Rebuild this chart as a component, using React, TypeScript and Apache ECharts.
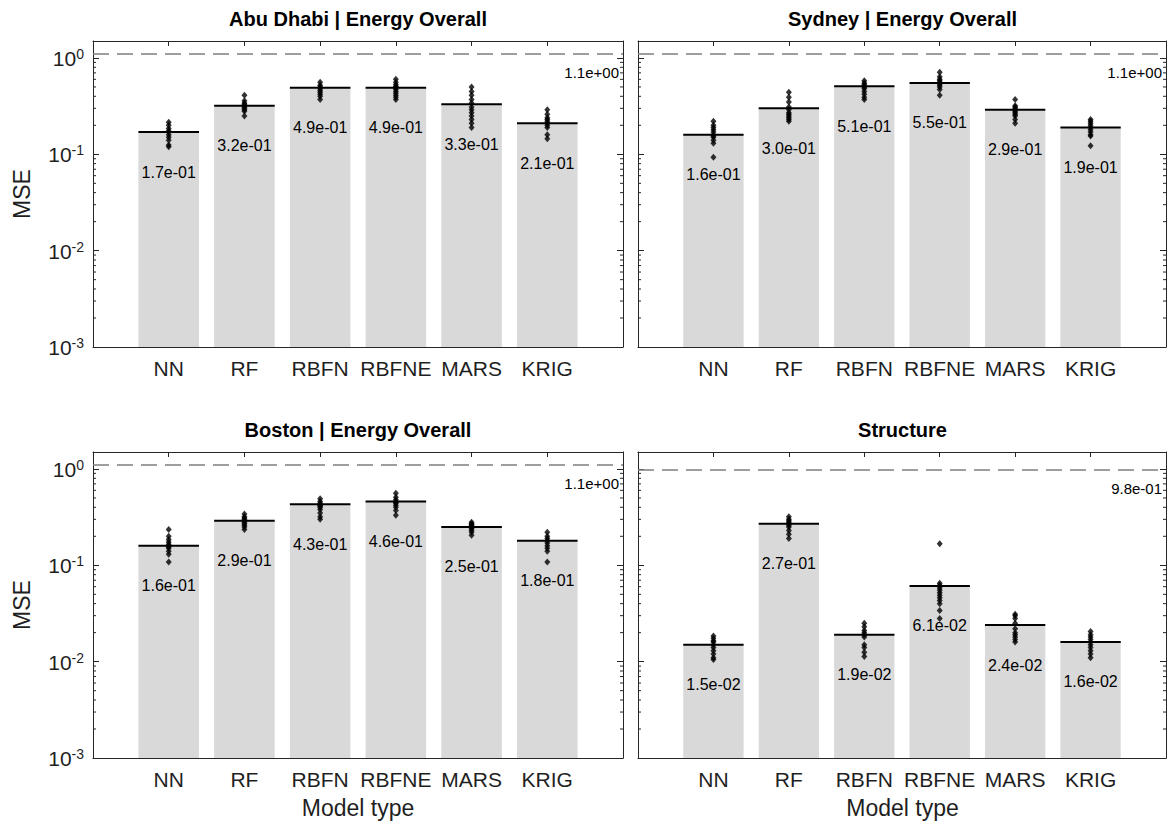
import React, { useEffect, useRef } from "react";
import * as echarts from "echarts";

const categories = ["NN", "RF", "RBFN", "RBFNE", "MARS", "KRIG"];
const panelTitles = ["Abu Dhabi | Energy Overall", "Sydney | Energy Overall", "Boston | Energy Overall", "Structure"];

const abuDhabiMeans = [0.17, 0.32, 0.49, 0.49, 0.33, 0.21];
const sydneyMeans = [0.16, 0.30, 0.51, 0.55, 0.29, 0.19];
const bostonMeans = [0.16, 0.29, 0.43, 0.46, 0.25, 0.18];
const structureMeans = [0.015, 0.27, 0.019, 0.061, 0.024, 0.016];

const baselineValues = [1.1, 1.1, 1.1, 0.98];

const abuDhabiPoints = [
  [0.215, 0.2, 0.185, 0.175, 0.17, 0.16, 0.15, 0.14, 0.125, 0.12],
  [0.41, 0.36, 0.34, 0.33, 0.32, 0.31, 0.3, 0.29, 0.28, 0.25],
  [0.56, 0.52, 0.5, 0.48, 0.46, 0.44, 0.42, 0.4, 0.37],
  [0.6, 0.56, 0.53, 0.51, 0.5, 0.49, 0.47, 0.45, 0.43, 0.41, 0.39, 0.37],
  [0.5, 0.45, 0.41, 0.37, 0.34, 0.31, 0.29, 0.27, 0.25, 0.23, 0.21, 0.19],
  [0.29, 0.26, 0.24, 0.23, 0.22, 0.21, 0.2, 0.19, 0.16, 0.145],
];
const sydneyPoints = [
  [0.22, 0.2, 0.19, 0.18, 0.17, 0.16, 0.155, 0.15, 0.14, 0.13, 0.093],
  [0.44, 0.39, 0.35, 0.31, 0.29, 0.27, 0.26, 0.25, 0.24, 0.23, 0.22],
  [0.58, 0.55, 0.53, 0.51, 0.5, 0.48, 0.45, 0.42, 0.39, 0.37],
  [0.71, 0.64, 0.6, 0.58, 0.56, 0.54, 0.52, 0.5, 0.47, 0.41],
  [0.37, 0.32, 0.31, 0.3, 0.29, 0.28, 0.27, 0.26, 0.25, 0.23, 0.21],
  [0.23, 0.22, 0.21, 0.2, 0.19, 0.18, 0.17, 0.16, 0.155, 0.123],
];
const bostonPoints = [
  [0.235, 0.2, 0.185, 0.175, 0.165, 0.16, 0.155, 0.15, 0.14, 0.13, 0.108],
  [0.34, 0.32, 0.31, 0.3, 0.29, 0.28, 0.27, 0.26, 0.25, 0.235],
  [0.49, 0.46, 0.44, 0.42, 0.41, 0.4, 0.38, 0.35, 0.32, 0.3],
  [0.56, 0.51, 0.48, 0.46, 0.45, 0.44, 0.42, 0.4, 0.37, 0.33],
  [0.28, 0.27, 0.265, 0.26, 0.255, 0.25, 0.245, 0.24, 0.23, 0.22, 0.205],
  [0.22, 0.2, 0.19, 0.18, 0.17, 0.16, 0.15, 0.14, 0.108],
];
const structurePoints = [
  [0.0185, 0.0175, 0.0165, 0.016, 0.015, 0.014, 0.013, 0.012, 0.011, 0.0105],
  [0.32, 0.3, 0.29, 0.28, 0.27, 0.26, 0.25, 0.23, 0.21, 0.19],
  [0.025, 0.023, 0.021, 0.02, 0.019, 0.018, 0.015, 0.014, 0.0125, 0.0113],
  [0.167, 0.065, 0.062, 0.058, 0.055, 0.052, 0.049, 0.046, 0.043, 0.04, 0.034, 0.028],
  [0.031, 0.03, 0.028, 0.025, 0.022, 0.02, 0.019, 0.018, 0.017, 0.016],
  [0.0205, 0.019, 0.018, 0.017, 0.016, 0.015, 0.014, 0.013, 0.012, 0.011],
];

const minorTickValues = [
  0.002, 0.003, 0.004, 0.005, 0.006, 0.007, 0.008, 0.009,
  0.02, 0.03, 0.04, 0.05, 0.06, 0.07, 0.08, 0.09,
  0.2, 0.3, 0.4, 0.5, 0.6, 0.7, 0.8, 0.9,
];

const yMin = 0.001;
const yMax = 1.5;
const xLabelName = "Model type";
const yLabelName = "MSE";

const allMeans = [abuDhabiMeans, sydneyMeans, bostonMeans, structureMeans];
const allPoints = [abuDhabiPoints, sydneyPoints, bostonPoints, structurePoints];

const FONT = "'Liberation Sans', Arial, Helvetica, sans-serif";
const AXIS_COLOR = "#262626";

const panels = [
  { left: 93, top: 41, width: 530, height: 306 },
  { left: 638, top: 41, width: 529, height: 306 },
  { left: 93, top: 452, width: 530, height: 306 },
  { left: 638, top: 452, width: 529, height: 306 },
];

function fmtExp(v: number): string {
  const s = v.toExponential(1);
  const m = s.match(/^(.*)e([+-])(\d+)$/);
  if (!m) return s;
  return `${m[1]}e${m[2]}${m[3].padStart(2, "0")}`;
}

function isPow10(v: number) {
  const l = Math.log10(v);
  return Math.abs(l - Math.round(l)) < 1e-6;
}

export default function App() {
  const ref = useRef<HTMLDivElement>(null);

  useEffect(() => {
    if (!ref.current) return;
    const chart = echarts.init(ref.current, undefined, { renderer: "svg" });

    const xAxis: any[] = [];
    const yAxis: any[] = [];
    const series: any[] = [];
    const graphic: any[] = [];

    panels.forEach((p, i) => {
      const isBottomRow = i >= 2;
      const isLeftCol = i % 2 === 0;
      xAxis.push({
        gridIndex: i,
        type: "value",
        min: 0,
        max: 7,
        interval: 1,
        position: "bottom",
        axisLine: { show: true, onZero: false, lineStyle: { color: AXIS_COLOR, width: 1 } },
        axisTick: { show: false },
        splitLine: { show: false },
        axisLabel: {
          show: true,
          margin: 11,
          fontSize: 21,
          fontFamily: FONT,
          color: "#1f1f1f",
          formatter: (v: number) => (v >= 1 && v <= categories.length && Number.isInteger(v) ? categories[v - 1] : ""),
        },
      });
      xAxis.push({
        gridIndex: i,
        type: "value",
        min: 0,
        max: 7,
        interval: 1,
        position: "top",
        axisLine: { show: true, onZero: false, lineStyle: { color: AXIS_COLOR, width: 1 } },
        axisTick: { show: true, inside: true, length: 5, lineStyle: { color: AXIS_COLOR } },
        splitLine: { show: false },
        axisLabel: { show: false },
      });
      yAxis.push({
        gridIndex: i,
        type: "log",
        logBase: 10,
        min: yMin,
        max: yMax,
        interval: 1,
        position: "left",
        axisLine: { show: true, onZero: false, lineStyle: { color: AXIS_COLOR, width: 1 } },
        axisTick: { show: true, inside: true, length: 6, lineStyle: { color: AXIS_COLOR } },
        splitLine: { show: false },
        showMaxLabel: false,
        axisLabel: {
          show: isLeftCol,
          margin: 9,
          color: "#1f1f1f",
          fontFamily: FONT,
          formatter: (v: number) => {
            if (!isPow10(v)) return "";
            const e = Math.round(Math.log10(v));
            return `{base|10}{sup|${e}}`;
          },
          rich: {
            base: { fontSize: 21, fontFamily: FONT, color: "#1f1f1f", lineHeight: 22, verticalAlign: "bottom" },
            sup: { fontSize: 14, fontFamily: FONT, color: "#1f1f1f", lineHeight: 13, verticalAlign: "top" },
          },
        },
      });
      yAxis.push({
        gridIndex: i,
        type: "log",
        logBase: 10,
        min: yMin,
        max: yMax,
        interval: 1,
        position: "right",
        axisLine: { show: true, onZero: false, lineStyle: { color: AXIS_COLOR, width: 1 } },
        axisTick: { show: true, inside: true, length: 6, lineStyle: { color: AXIS_COLOR } },
        splitLine: { show: false },
        axisLabel: { show: false },
      });

      const means = allMeans[i];
      const pts = allPoints[i];

      series.push({
        type: "custom",
        xAxisIndex: 2 * i,
        yAxisIndex: 2 * i,
        z: 2,
        silent: true,
        data: means.map((m, k) => [k + 1, m]),
        encode: { x: 0, y: 1 },
        renderItem: (params: any, api: any) => {
          const x = api.value(0);
          const v = api.value(1);
          const top = api.coord([x, v]);
          const bot = api.coord([x, yMin]);
          const halfW = api.coord([x + 0.4, v])[0] - top[0];
          return {
            type: "group",
            children: [
              {
                type: "rect",
                shape: { x: top[0] - halfW, y: top[1], width: 2 * halfW, height: bot[1] - top[1] },
                style: { fill: "#d9d9d9" },
              },
              {
                type: "line",
                shape: { x1: top[0] - halfW, y1: top[1], x2: top[0] + halfW, y2: top[1] },
                style: { stroke: "#000000", lineWidth: 2 },
              },
              {
                type: "text",
                x: top[0],
                y: top[1] + 40,
                style: {
                  text: fmtExp(v),
                  fill: "#000000",
                  fontSize: 16,
                  fontFamily: FONT,
                  align: "center",
                  verticalAlign: "middle",
                  textAlign: "center",
                  textVerticalAlign: "middle",
                },
              },
            ],
          };
        },
      });

      series.push({
        type: "custom",
        xAxisIndex: 2 * i,
        yAxisIndex: 2 * i,
        z: 3,
        silent: true,
        data: minorTickValues.map((v) => [0, v]),
        encode: { x: 0, y: 1 },
        renderItem: (params: any, api: any) => {
          const v = api.value(1);
          const l = api.coord([0, v]);
          const r = api.coord([7, v]);
          return {
            type: "group",
            children: [
              { type: "line", shape: { x1: l[0], y1: l[1], x2: l[0] + 3, y2: l[1] }, style: { stroke: AXIS_COLOR, lineWidth: 1 } },
              { type: "line", shape: { x1: r[0] - 3, y1: r[1], x2: r[0], y2: r[1] }, style: { stroke: AXIS_COLOR, lineWidth: 1 } },
            ],
          };
        },
      });

      const scatterData: number[][] = [];
      pts.forEach((arr, k) => arr.forEach((v) => scatterData.push([k + 1, v])));
      series.push({
        type: "scatter",
        xAxisIndex: 2 * i,
        yAxisIndex: 2 * i,
        z: 5,
        silent: true,
        symbol: "diamond",
        symbolSize: [6, 7],
        itemStyle: { color: "#000000" },
        data: scatterData,
        markLine: {
          silent: true,
          symbol: ["none", "none"],
          lineStyle: { type: [16, 8], color: "#7f7f7f", width: 1.5 },
          label: {
            show: true,
            position: "insideEndBottom",
            distance: [4, 11],
            fontSize: 15,
            fontFamily: FONT,
            color: "#000000",
            formatter: () => fmtExp(baselineValues[i]),
          },
          data: [{ yAxis: baselineValues[i] }],
        },
      });

      graphic.push({
        type: "text",
        x: p.left + p.width / 2,
        y: p.top - 22,
        style: {
          text: panelTitles[i],
          fill: "#000000",
          font: `bold 20px ${FONT}`,
          textAlign: "center",
          textVerticalAlign: "middle",
          align: "center",
          verticalAlign: "middle",
        },
      });
      if (isLeftCol) {
        graphic.push({
          type: "text",
          x: 22,
          y: p.top + p.height / 2,
          rotation: Math.PI / 2,
          style: {
            text: yLabelName,
            fill: "#1f1f1f",
            font: `23px ${FONT}`,
            textAlign: "center",
            textVerticalAlign: "middle",
            align: "center",
            verticalAlign: "middle",
          },
        });
      }
      if (isBottomRow) {
        graphic.push({
          type: "text",
          x: p.left + p.width / 2,
          y: p.top + p.height + 50,
          style: {
            text: xLabelName,
            fill: "#1f1f1f",
            font: `23px ${FONT}`,
            textAlign: "center",
            textVerticalAlign: "middle",
            align: "center",
            verticalAlign: "middle",
          },
        });
      }
    });

    chart.setOption({
      animation: false,
      backgroundColor: "#ffffff",
      grid: panels.map((p) => ({ left: p.left, top: p.top, width: p.width, height: p.height, containLabel: false })),
      xAxis,
      yAxis,
      series,
      graphic,
    });

    return () => {
      chart.dispose();
    };
  }, []);

  return (
    <div
      ref={ref}
      style={{ position: "fixed", left: 0, top: 0, width: 1169, height: 827, background: "#ffffff" }}
    />
  );
}
